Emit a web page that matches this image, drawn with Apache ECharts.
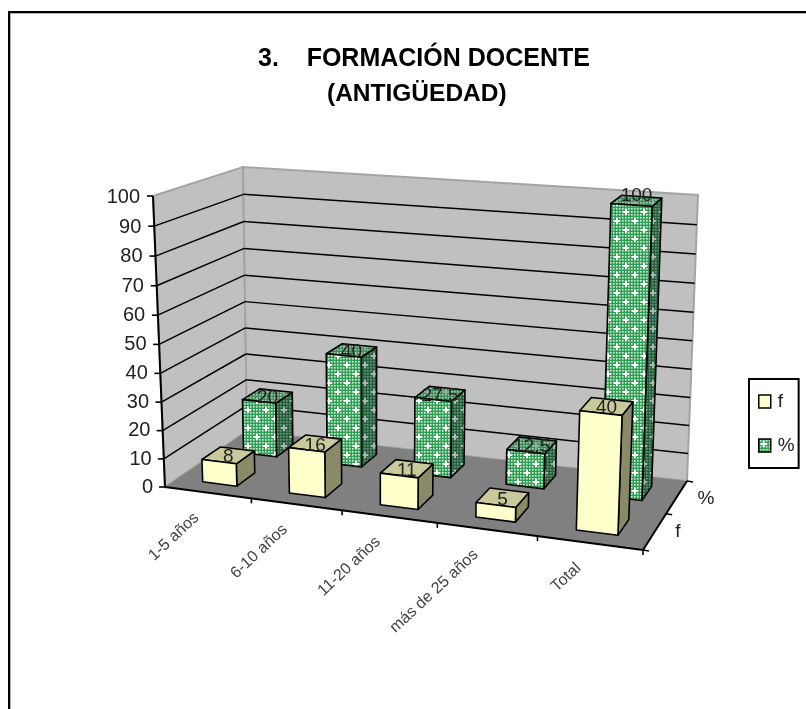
<!DOCTYPE html>
<html>
<head>
<meta charset="utf-8">
<style>html,body{margin:0;padding:0;background:#fff}#c{width:806px;height:709px;filter:blur(0.35px)}</style>
<script src="https://cdn.jsdelivr.net/npm/echarts@6/dist/echarts.min.js"></script>
</head>
<body>
<div id="c"></div>
<script>
const categories = ['1-5 años', '6-10 años', '11-20 años', 'más de 25 años', 'Total'];
const fValues = [8, 16, 11, 5, 40];
const pctValues = [20, 40, 27.5, 12.5, 100];
const yTicks = [0, 10, 20, 30, 40, 50, 60, 70, 80, 90, 100];
const FONT = '"Liberation Sans", Arial, sans-serif';

// Perspective frame of the 3-D box (layout only)
function quad(p0, p1, p2, p3) {
  const dx1 = p1[0]-p2[0], dx2 = p3[0]-p2[0], sx = p0[0]-p1[0]+p2[0]-p3[0];
  const dy1 = p1[1]-p2[1], dy2 = p3[1]-p2[1], sy = p0[1]-p1[1]+p2[1]-p3[1];
  const den = dx1*dy2-dx2*dy1;
  const g = (sx*dy2-dx2*sy)/den, h = (dx1*sy-sx*dy1)/den;
  const a = p1[0]-p0[0]+g*p1[0], b = p3[0]-p0[0]+h*p3[0], c = p0[0];
  const d = p1[1]-p0[1]+g*p1[1], e = p3[1]-p0[1]+h*p3[1], f = p0[1];
  return (u, w) => { const q = g*u+h*w+1; return [(a*u+b*w+c)/q, (d*u+e*w+f)/q]; };
}
const floorMap = quad([165,487],[643,550],[687,481],[247,431]);
const bil = (a, b, c, d, u, w) => (a*(1-u)+b*u)*(1-w)+(d*(1-u)+c*u)*w;
const persp = t => t*0.961/(1-0.039*t);
function P(u, w, t) {
  const a = floorMap(u, w), s = persp(t);
  const dx = bil(-12, 12, 11, -4, u, w), dy = bil(291, 312, 286, 264, u, w);
  return [a[0]+dx*s, a[1]-dy*s];
}

function tile(base, dot, plus) {
  const s = 18, c = document.createElement('canvas');
  c.width = c.height = s;
  const x = c.getContext('2d');
  x.fillStyle = base; x.fillRect(0,0,s,s);
  x.fillStyle = dot;
  for (let i = 0; i < s; i += 3) for (let j = 0; j < s; j += 3) x.fillRect(i+1, j+1, 1.6, 1.6);
  x.fillStyle = plus;
  [[4,4],[13,13]].forEach(p => {
    x.fillRect(p[0], p[1]-2, 2, 6);
    x.fillRect(p[0]-2, p[1], 6, 2);
  });
  return { image: c, repeat: 'repeat' };
}
const patFront = tile('#2f9e55', '#d4f0d8', '#ffffff');
const patSide = tile('#245f3c', '#6f9a7e', '#a8b8ac');
const patTop = tile('#3f8a5a', '#a9cdb2', '#8fb09a');

const styleF = { front:'#ffffcc', side:'#8a8a68', top:'#c9c99c' };
const stylePct = { front:patFront, side:patSide, top:patTop };

function barRender(depthCenter, look) {
  return function (params, api) {
    const i = api.value(0), v = api.value(1);
    const cs = params.coordSys;
    const pt = api.coord([i, v]);
    const band = api.size([1, 0])[0];
    const uc = (pt[0]-cs.x)/cs.width, du = 0.40*band/cs.width/2;
    const t = (cs.y+cs.height-pt[1])/cs.height;
    const u0 = uc-du, u1 = uc+du, w0 = depthCenter-0.11, w1 = depthCenter+0.11;
    const poly = (pts, fill) => ({ type:'polygon', shape:{points:pts},
      style:{fill:fill, stroke:'#000', lineWidth:1.6, lineJoin:'round'} });
    const lab = P(uc, depthCenter, t);
    return { type:'group', children:[
      poly([P(u1,w0,0),P(u1,w1,0),P(u1,w1,t),P(u1,w0,t)], look.side),
      poly([P(u0,w0,t),P(u1,w0,t),P(u1,w1,t),P(u0,w1,t)], look.top),
      poly([P(u0,w0,0),P(u1,w0,0),P(u1,w0,t),P(u0,w0,t)], look.front),
      { type:'text', x:lab[0], y:lab[1]+2-7*t*t*t*t, style:{ text:String(v), fill:'#222',
        font:'19px '+FONT, textAlign:'center', textVerticalAlign:'middle' } }
    ]};
  };
}

function frameRender(params, api) {
  const cs = params.coordSys, kids = [];
  const line = (a, b, col, lw) => kids.push({ type:'line',
    shape:{x1:a[0],y1:a[1],x2:b[0],y2:b[1]}, style:{stroke:col, lineWidth:lw} });
  const wall = '#c0c0c0', edge = '#a4a4a4';
  kids.push({ type:'polygon', shape:{points:[P(0,0,0),P(0,1,0),P(0,1,1),P(0,0,1)]}, style:{fill:wall, stroke:edge, lineWidth:2} });
  kids.push({ type:'polygon', shape:{points:[P(0,1,0),P(1,1,0),P(1,1,1),P(0,1,1)]}, style:{fill:wall, stroke:edge, lineWidth:2} });
  kids.push({ type:'polygon', shape:{points:[P(0,0,0),P(1,0,0),P(1,1,0),P(0,1,0)]}, style:{fill:'#808080'} });
  yTicks.forEach(v => {
    const t = (cs.y+cs.height-api.coord([0,v])[1])/cs.height;
    if (v > 0 && v < 100) { line(P(0,0,t),P(0,1,t),'#000',1.5); line(P(0,1,t),P(1,1,t),'#000',1.5); }
    const a = P(0,0,t);
    line(a,[a[0]-6,a[1]],'#000',1.6);
  });
  line(P(0,0,0),P(0,0,1),'#000',2);
  line(P(0,0,0),P(1,0,0),'#000',2);
  line(P(1,0,0),P(1,1,0),'#000',2);
  categories.forEach((name, i) => {
    const c = api.coord([i,0]), band = api.size([1,0])[0];
    const uc = (c[0]-cs.x)/cs.width, ue = (c[0]+band/2-cs.x)/cs.width;
    const e = P(ue,0,0);
    line(e,[e[0],e[1]+5],'#000',1.6);
    const m = P(uc,0,0);
    kids.push({ type:'text', x:m[0]-11, y:m[1]+23, rotation:Math.PI*43/180,
      style:{ text:name, fill:'#444', font:'16px '+FONT, textAlign:'right', textVerticalAlign:'middle' } });
  });
  [0, 0.5, 1].forEach(d => { const p = P(1,d,0); line(p,[p[0]+6,p[1]+1],'#000',1.6); });
  [['f',0.25,23,0],['%',0.75,29,2]].forEach(a => {
    const p = P(1,a[1],0);
    kids.push({ type:'text', x:p[0]+a[2], y:p[1]+a[3],
      style:{ text:a[0], fill:'#222', font:'19px '+FONT, textAlign:'center', textVerticalAlign:'middle' } });
  });
  return { type:'group', children:kids };
}

const rich = {};
yTicks.forEach(v => {
  const t = v/100, shift = 290*(t-persp(t));
  rich['t'+v] = { padding:[2*shift, 13*t, 0, 0], fontSize:20, fontFamily:FONT, color:'#222' };
});

const chart = echarts.init(document.getElementById('c'));
chart.setOption({
  animation:false,
  backgroundColor:'#fff',
  title:[
    { text:'3.    FORMACIÓN DOCENTE', left:253, top:42, textStyle:{ fontFamily:FONT, fontSize:25, fontWeight:'bold', color:'#000' } },
    { text:'(ANTIGÜEDAD)', left:322, top:77, textStyle:{ fontFamily:FONT, fontSize:24.5, fontWeight:'bold', color:'#000' } }
  ],
  grid:{ left:153, top:197, width:490, height:290 },
  xAxis:{ type:'category', data:categories, axisLine:{show:false}, axisTick:{show:false}, axisLabel:{show:false}, splitLine:{show:false} },
  yAxis:{ type:'value', min:0, max:100, interval:10, axisLine:{show:false}, axisTick:{show:false}, splitLine:{show:false},
    axisLabel:{ margin:0, formatter:v => '{t'+v+'|'+v+'}', rich:rich } },
  legend:{ data:['f','%'], orient:'vertical', left:749, top:379, padding:[13,4,13,9], itemWidth:12, itemHeight:13, itemGap:25,
    backgroundColor:'#fff', borderColor:'#000', borderWidth:2, borderRadius:0, icon:'rect', selectedMode:false,
    itemStyle:{ borderColor:'#000', borderWidth:1.5 },
    textStyle:{ fontFamily:FONT, fontSize:19, color:'#222', padding:[0,0,0,2] } },
  graphic:[
    { type:'rect', z:100, shape:{x:8,y:11,width:2,height:698}, style:{fill:'#000'} },
    { type:'rect', z:100, shape:{x:8,y:11,width:798,height:2}, style:{fill:'#000'} },
    { type:'rect', z:100, shape:{x:10,y:13,width:1,height:696}, style:{fill:'#b0b0b0'} },
    { type:'rect', z:100, shape:{x:10,y:13,width:796,height:1}, style:{fill:'#b0b0b0'} }
  ],
  series:[
    { type:'custom', name:'frame', data:[[0,0]], renderItem:frameRender, silent:true, z:1 },
    { type:'custom', name:'%', data:pctValues.map((v,i)=>[i,v]), renderItem:barRender(0.75, stylePct), itemStyle:{color:patFront}, z:2 },
    { type:'custom', name:'f', data:fValues.map((v,i)=>[i,v]), renderItem:barRender(0.25, styleF), itemStyle:{color:'#ffffcc'}, z:3 }
  ]
});
</script>
</body>
</html>
